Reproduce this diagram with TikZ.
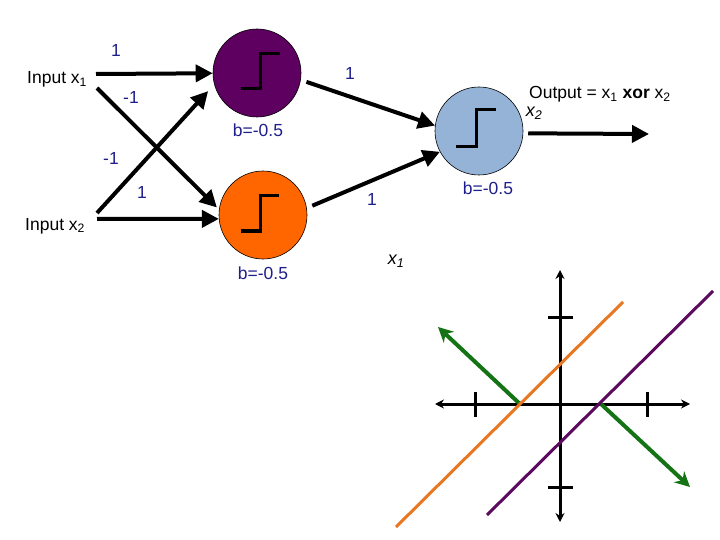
\documentclass[tikz,border=0pt]{standalone}
\usepackage{fontspec}
\setmainfont{Liberation Sans}
\usetikzlibrary{arrows.meta}
\definecolor{wcol}{RGB}{30,30,140}
\definecolor{npurple}{RGB}{94,0,96}
\definecolor{norange}{RGB}{255,102,0}
\definecolor{nblue}{RGB}{149,179,215}
\definecolor{lorange}{RGB}{232,119,34}
\definecolor{lpurple}{RGB}{92,10,94}
\definecolor{lgreen}{RGB}{20,115,20}
\begin{document}
\begin{tikzpicture}[x=1pt,y=-1pt,
  neuron/.style={circle,draw=black,line width=0.6pt,minimum size=88pt,inner sep=0pt},
  conn/.style={line width=4pt,-{Triangle[length=17pt,width=17pt]}},
  wlab/.style={text=wcol,font=\fontsize{17.5}{20}\selectfont,inner sep=0pt},
  tlab/.style={font=\fontsize{17.5}{20}\selectfont,inner sep=0pt},
  axlab/.style={font=\fontsize{18}{20}\selectfont\itshape,inner sep=0pt},
  stepfn/.style={line width=3pt},
  axisline/.style={line width=3pt,{Stealth[length=9pt,width=9pt]}-{Stealth[length=9pt,width=9pt]}},
  tickmark/.style={line width=3pt},
  garrow/.style={draw=lgreen,line width=4pt,-{Stealth[length=15pt,width=15pt]}},
  sepline/.style={line width=3pt}]
\useasboundingbox (0,0) rectangle (720,540);
% neurons
\node[neuron,fill=npurple] (pur) at (257,73) {};
\node[neuron,fill=norange] (org) at (263,215) {};
\node[neuron,fill=nblue] (blu) at (479,131) {};
\draw[stepfn] ([shift={(-16,16)}]pur.center) -- ++(19,0) -- ++(0,-35) -- ++(20,0);
\draw[stepfn] ([shift={(-22,16)}]org.center) -- ++(19,0) -- ++(0,-35) -- ++(19,0);
\draw[stepfn] ([shift={(-23,16)}]blu.center) -- ++(20,0) -- ++(0,-37) -- ++(20,0);
% inputs
\node[tlab,anchor=base west] (in1) at (27,84) {Input x\textsubscript{1}};
\node[tlab,anchor=base west] (in2) at (25,230) {Input x\textsubscript{2}};
\coordinate (s1) at (96,74);
\coordinate (s1d) at (97,88);
\coordinate (s2u) at (97,213);
\coordinate (s2) at (97,219);
\coordinate (outB) at (649,134);
\draw[conn] (s1) -- (pur);
\draw[conn,shorten >=3pt] (s1d) -- (org.173);
\draw[conn,shorten >=9pt] (s2u) -- (pur.195);
\draw[conn] (s2) -- (org.185);
\draw[conn,shorten <=6pt] (pur.-9) -- (blu.173);
\draw[conn,shorten <=6pt] (org.9) -- (blu.208);
\draw[conn,shorten <=5pt] (blu.-3) -- (outB);
% weights
\node[wlab] (w11) at (116,50) {1};
\node[wlab] (w12) at (131,97) {-1};
\node[wlab] (w21) at (111,158) {-1};
\node[wlab] (w22) at (142,192) {1};
\node[wlab] (w31) at (350,73) {1};
\node[wlab] (w32) at (372,199) {1};
\node[wlab] (b1) at (258,130) {b=-0.5};
\node[wlab] (b2) at (263,273) {b=-0.5};
\node[wlab] (b3) at (488,188) {b=-0.5};
% output text
\node[tlab,anchor=base west] (outt) at (529,99) {Output = x\textsubscript{1} \textbf{xor} x\textsubscript{2}};
\node[axlab] (ax2) at (534,113) {x\textsubscript{2}};
\node[axlab] (ax1) at (396,261) {x\textsubscript{1}};
% plot
\draw[axisline] (435,404) -- (690,404);
\draw[axisline] (560,270) -- (560,522);
\draw[tickmark] (475,392) -- (475,417);
\draw[tickmark] (647,392) -- (647,417);
\draw[tickmark] (548,317) -- (573,317);
\draw[tickmark] (548,487) -- (573,487);
\draw[garrow] (520,404) -- (438,327);
\draw[garrow] (601,404) -- (690,487);
\draw[sepline,draw=lorange] (396,527) -- (623,302);
\draw[sepline,draw=lpurple] (487,515) -- (713,291);
\end{tikzpicture}
\end{document}
